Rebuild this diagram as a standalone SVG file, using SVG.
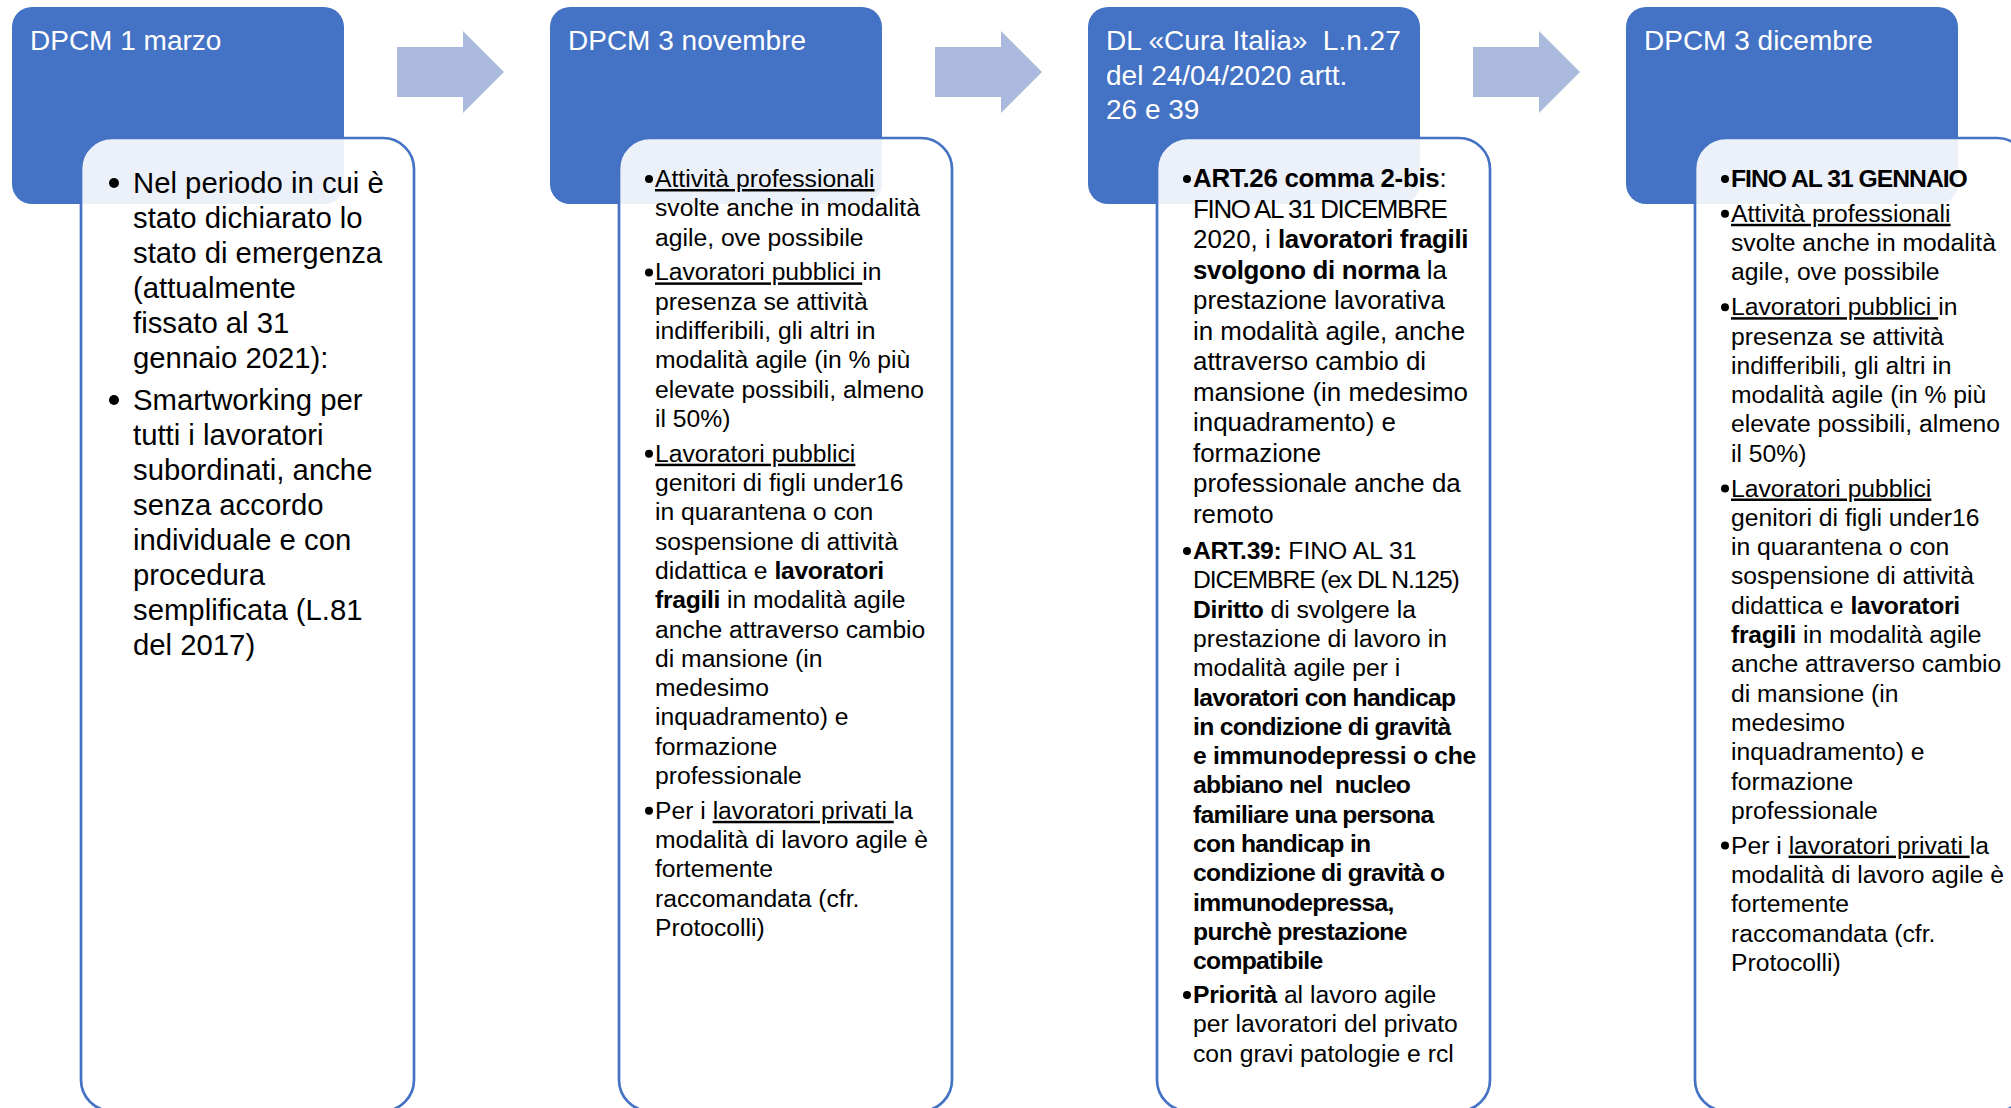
<svg xmlns="http://www.w3.org/2000/svg" width="2011" height="1108" viewBox="0 0 2011 1108">
<style>
.hdr{fill:#4472C4}
.det{fill:#fff;fill-opacity:0.9;stroke:#4472C4;stroke-width:2.7}
text{font-family:"Liberation Sans",Arial,sans-serif;fill:#000}
.ttl{font-size:28px;fill:#fff}
.b1{font-size:29.3px}
.b2{font-size:24.7px}
.b3{font-size:25.9px}
.bd{font-weight:bold;letter-spacing:-0.3px}
.bt{letter-spacing:-0.7px}
.u{text-decoration:underline}
.dot{fill:#000}
.arr{fill:#AAB9DC}
</style>
<rect width="2011" height="1108" fill="#fff"/>
<g id="connectors">
<polygon class="arr" points="397,47 463,47 463,31 504,72 463,113 463,97 397,97"/>
<polygon class="arr" points="935,47 1001,47 1001,31 1042,72 1001,113 1001,97 935,97"/>
<polygon class="arr" points="1473,47 1539,47 1539,31 1580,72 1539,113 1539,97 1473,97"/>
</g>
<g id="node-dpcm-1-marzo">
<rect class="hdr" x="12" y="7" width="332" height="197" rx="20"/>
<text class="ttl" x="30" y="50">DPCM 1 marzo</text>
<rect class="det" x="81" y="138" width="333" height="973" rx="31"/>
<circle class="dot" cx="114" cy="183" r="5"/>
<circle class="dot" cx="114" cy="400" r="5"/>
<text class="b1">
<tspan x="133" y="193">Nel periodo in cui è</tspan>
<tspan x="133" y="228">stato dichiarato lo</tspan>
<tspan x="133" y="263">stato di emergenza</tspan>
<tspan x="133" y="298">(attualmente</tspan>
<tspan x="133" y="333">fissato al 31</tspan>
<tspan x="133" y="368">gennaio 2021):</tspan>
<tspan x="133" y="410">Smartworking per</tspan>
<tspan x="133" y="445">tutti i lavoratori</tspan>
<tspan x="133" y="480">subordinati, anche</tspan>
<tspan x="133" y="515">senza accordo</tspan>
<tspan x="133" y="550">individuale e con</tspan>
<tspan x="133" y="585">procedura</tspan>
<tspan x="133" y="620">semplificata (L.81</tspan>
<tspan x="133" y="655">del 2017)</tspan>
</text>
</g>
<g id="node-dpcm-3-novembre">
<rect class="hdr" x="550" y="7" width="332" height="197" rx="20"/>
<text class="ttl" x="568" y="50">DPCM 3 novembre</text>
<rect class="det" x="619" y="138" width="333" height="973" rx="31"/>
<circle class="dot" cx="649" cy="179" r="4"/>
<circle class="dot" cx="649" cy="272.4" r="4"/>
<circle class="dot" cx="649" cy="453.7" r="4"/>
<circle class="dot" cx="649" cy="810.8" r="4"/>
<text class="b2" x="655" y="187"><tspan class="u">Attività professionali</tspan></text>
<text class="b2" x="655" y="216.3">svolte anche in modalità</text>
<text class="b2" x="655" y="245.6">agile, ove possibile</text>
<text class="b2" x="655" y="280.4"><tspan class="u">Lavoratori pubblici </tspan>in</text>
<text class="b2" x="655" y="309.7">presenza se attività</text>
<text class="b2" x="655" y="339">indifferibili, gli altri in</text>
<text class="b2" x="655" y="368.3">modalità agile (in % più</text>
<text class="b2" x="655" y="397.6">elevate possibili, almeno</text>
<text class="b2" x="655" y="426.9">il 50%)</text>
<text class="b2" x="655" y="461.7"><tspan class="u">Lavoratori pubblici</tspan></text>
<text class="b2" x="655" y="491">genitori di figli under16</text>
<text class="b2" x="655" y="520.3">in quarantena o con</text>
<text class="b2" x="655" y="549.6">sospensione di attività</text>
<text class="b2" x="655" y="578.9">didattica e <tspan class="bd">lavoratori</tspan></text>
<text class="b2" x="655" y="608.2"><tspan class="bd">fragili</tspan> in modalità agile</text>
<text class="b2" x="655" y="637.5">anche attraverso cambio</text>
<text class="b2" x="655" y="666.8">di mansione (in</text>
<text class="b2" x="655" y="696.1">medesimo</text>
<text class="b2" x="655" y="725.4">inquadramento) e</text>
<text class="b2" x="655" y="754.7">formazione</text>
<text class="b2" x="655" y="784">professionale</text>
<text class="b2" x="655" y="818.8">Per i <tspan class="u">lavoratori privati </tspan>la</text>
<text class="b2" x="655" y="848.1">modalità di lavoro agile è</text>
<text class="b2" x="655" y="877.4">fortemente</text>
<text class="b2" x="655" y="906.7">raccomandata (cfr.</text>
<text class="b2" x="655" y="936">Protocolli)</text>
</g>
<g id="node-dl-cura-italia">
<rect class="hdr" x="1088" y="7" width="332" height="197" rx="20"/>
<text class="ttl" xml:space="preserve"><tspan x="1106" y="50">DL «Cura Italia»  L.n.27</tspan><tspan x="1106" y="84.5">del 24/04/2020 artt.</tspan><tspan x="1106" y="119">26 e 39</tspan></text>
<rect class="det" x="1157" y="138" width="333" height="973" rx="31"/>
<circle class="dot" cx="1187" cy="179" r="4"/>
<circle class="dot" cx="1187" cy="551" r="4"/>
<circle class="dot" cx="1187" cy="995" r="4"/>
<text class="b3" x="1193" y="187"><tspan class="bd">ART.26 comma 2-bis</tspan>:</text>
<text class="b3" x="1193" y="217.5" letter-spacing="-1.3">FINO AL 31 DICEMBRE</text>
<text class="b3" x="1193" y="248">2020, i <tspan class="bd">lavoratori fragili</tspan></text>
<text class="b3" x="1193" y="278.5"><tspan class="bd">svolgono di norma</tspan> la</text>
<text class="b3" x="1193" y="309">prestazione lavorativa</text>
<text class="b3" x="1193" y="339.5">in modalità agile, anche</text>
<text class="b3" x="1193" y="370">attraverso cambio di</text>
<text class="b3" x="1193" y="400.5">mansione (in medesimo</text>
<text class="b3" x="1193" y="431">inquadramento) e</text>
<text class="b3" x="1193" y="461.5">formazione</text>
<text class="b3" x="1193" y="492">professionale anche da</text>
<text class="b3" x="1193" y="522.5">remoto</text>
<text class="b2" x="1193" y="559"><tspan class="bd">ART.39:</tspan> FINO AL 31</text>
<text class="b2" x="1193" y="588.3" letter-spacing="-1.1">DICEMBRE (ex DL N.125)</text>
<text class="b2" x="1193" y="617.6"><tspan class="bd">Diritto</tspan> di svolgere la</text>
<text class="b2" x="1193" y="646.9">prestazione di lavoro in</text>
<text class="b2" x="1193" y="676.2">modalità agile per i</text>
<text class="b2 bd bt" x="1193" y="705.5">lavoratori con handicap</text>
<text class="b2 bd bt" x="1193" y="734.8">in condizione di gravità</text>
<text class="b2 bd" x="1193" y="764.1" letter-spacing="-0.9">e immunodepressi o che</text>
<text class="b2 bd bt" x="1193" y="793.4" xml:space="preserve">abbiano nel  nucleo</text>
<text class="b2 bd bt" x="1193" y="822.7">familiare una persona</text>
<text class="b2 bd bt" x="1193" y="852">con handicap in</text>
<text class="b2 bd bt" x="1193" y="881.3">condizione di gravità o</text>
<text class="b2 bd bt" x="1193" y="910.6">immunodepressa,</text>
<text class="b2 bd bt" x="1193" y="939.9">purchè prestazione</text>
<text class="b2 bd bt" x="1193" y="969.2">compatibile</text>
<text class="b2" x="1193" y="1003"><tspan class="bd">Priorità</tspan> al lavoro agile</text>
<text class="b2" x="1193" y="1032.3">per lavoratori del privato</text>
<text class="b2" x="1193" y="1061.6">con gravi patologie e rcl</text>
</g>
<g id="node-dpcm-3-dicembre">
<rect class="hdr" x="1626" y="7" width="332" height="197" rx="20"/>
<text class="ttl" x="1644" y="50">DPCM 3 dicembre</text>
<rect class="det" x="1695" y="138" width="333" height="973" rx="31"/>
<circle class="dot" cx="1725" cy="179" r="4"/>
<circle class="dot" cx="1725" cy="213.8" r="4"/>
<circle class="dot" cx="1725" cy="307.2" r="4"/>
<circle class="dot" cx="1725" cy="488.5" r="4"/>
<circle class="dot" cx="1725" cy="845.6" r="4"/>
<text class="b2" x="1731" y="187" font-weight="bold" letter-spacing="-1">FINO AL 31 GENNAIO</text>
<text class="b2" x="1731" y="221.8"><tspan class="u">Attività professionali</tspan></text>
<text class="b2" x="1731" y="251.1">svolte anche in modalità</text>
<text class="b2" x="1731" y="280.4">agile, ove possibile</text>
<text class="b2" x="1731" y="315.2"><tspan class="u">Lavoratori pubblici </tspan>in</text>
<text class="b2" x="1731" y="344.5">presenza se attività</text>
<text class="b2" x="1731" y="373.8">indifferibili, gli altri in</text>
<text class="b2" x="1731" y="403.1">modalità agile (in % più</text>
<text class="b2" x="1731" y="432.4">elevate possibili, almeno</text>
<text class="b2" x="1731" y="461.7">il 50%)</text>
<text class="b2" x="1731" y="496.5"><tspan class="u">Lavoratori pubblici</tspan></text>
<text class="b2" x="1731" y="525.8">genitori di figli under16</text>
<text class="b2" x="1731" y="555.1">in quarantena o con</text>
<text class="b2" x="1731" y="584.4">sospensione di attività</text>
<text class="b2" x="1731" y="613.7">didattica e <tspan class="bd">lavoratori</tspan></text>
<text class="b2" x="1731" y="643"><tspan class="bd">fragili</tspan> in modalità agile</text>
<text class="b2" x="1731" y="672.3">anche attraverso cambio</text>
<text class="b2" x="1731" y="701.6">di mansione (in</text>
<text class="b2" x="1731" y="730.9">medesimo</text>
<text class="b2" x="1731" y="760.2">inquadramento) e</text>
<text class="b2" x="1731" y="789.5">formazione</text>
<text class="b2" x="1731" y="818.8">professionale</text>
<text class="b2" x="1731" y="853.6">Per i <tspan class="u">lavoratori privati </tspan>la</text>
<text class="b2" x="1731" y="882.9">modalità di lavoro agile è</text>
<text class="b2" x="1731" y="912.2">fortemente</text>
<text class="b2" x="1731" y="941.5">raccomandata (cfr.</text>
<text class="b2" x="1731" y="970.8">Protocolli)</text>
</g>
</svg>
